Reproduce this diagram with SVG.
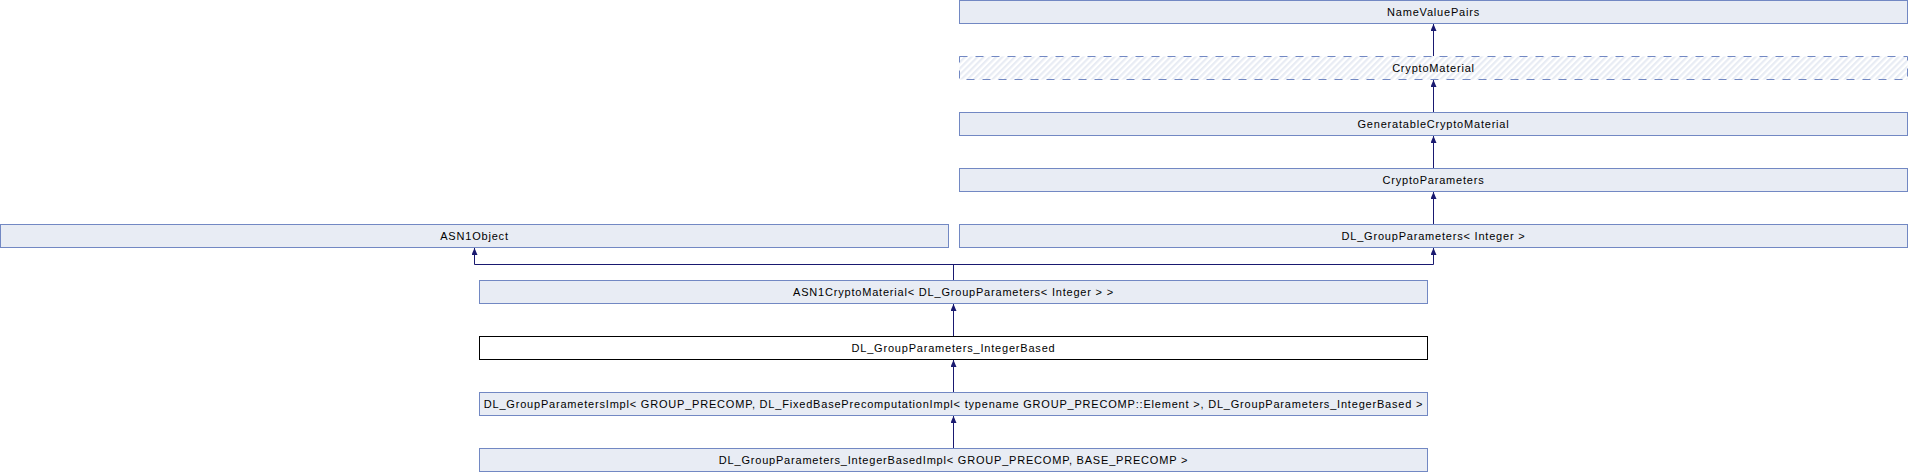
<svg xmlns="http://www.w3.org/2000/svg" width="1908" height="472" viewBox="0 0 1908 472">
<defs>
<style>
.n rect{fill:#e8ecf4;stroke:#7288c3;stroke-width:1}
.n.w rect{fill:#ffffff;stroke:#000000}
.n.a rect{fill:url(#hatch);stroke-dasharray:8,8}
.n text{font-family:"Liberation Sans",Arial,sans-serif;font-size:11px;letter-spacing:0.8px;fill:#000;text-anchor:middle}
#edges path{fill:none;stroke:#191970;stroke-width:1}
#edges path.h{marker-end:url(#arr)}
</style>
<pattern id="hatch" patternUnits="userSpaceOnUse" width="4.4" height="4.4" patternTransform="rotate(45)">
<rect x="0" y="0" width="4.4" height="4.4" fill="#ffffff"/>
<rect x="0" y="0" width="2.2" height="4.4" fill="#e8ecf4"/>
</pattern>
<marker id="arr" markerUnits="userSpaceOnUse" viewBox="0 0 7 6" refX="7" refY="3" markerWidth="7" markerHeight="6" orient="auto">
<path d="M0,0 L7,3 L0,6 z" fill="#191970"/>
</marker>
</defs>
<rect width="1908" height="472" fill="#ffffff"/>
<g id="edges">
<path class="h" d="M1433.5,56 V24"/>
<path class="h" d="M1433.5,112 V80"/>
<path class="h" d="M1433.5,168 V136"/>
<path class="h" d="M1433.5,224 V192"/>
<path d="M953.5,280 V264.5 M474.5,264.5 H1433.5"/>
<path class="h" d="M474.5,264.5 V248"/>
<path class="h" d="M1433.5,264.5 V248"/>
<path class="h" d="M953.5,336 V304"/>
<path class="h" d="M953.5,392 V360"/>
<path class="h" d="M953.5,448 V416"/>
</g>
<g id="NameValuePairs" class="n"><rect x="959.5" y="0.5" width="948" height="23"/><text x="1433.5" y="15.5">NameValuePairs</text></g>
<g id="CryptoMaterial" class="n a"><rect x="959.5" y="56.5" width="948" height="23"/><text x="1433.5" y="71.5">CryptoMaterial</text></g>
<g id="GeneratableCryptoMaterial" class="n"><rect x="959.5" y="112.5" width="948" height="23"/><text x="1433.5" y="127.5">GeneratableCryptoMaterial</text></g>
<g id="CryptoParameters" class="n"><rect x="959.5" y="168.5" width="948" height="23"/><text x="1433.5" y="183.5">CryptoParameters</text></g>
<g id="DL_GroupParameters" class="n"><rect x="959.5" y="224.5" width="948" height="23"/><text x="1433.5" y="239.5">DL_GroupParameters&lt; Integer &gt;</text></g>
<g id="ASN1Object" class="n"><rect x="0.5" y="224.5" width="948" height="23"/><text x="474.5" y="239.5">ASN1Object</text></g>
<g id="ASN1CryptoMaterial" class="n"><rect x="479.5" y="280.5" width="948" height="23"/><text x="953.5" y="295.5">ASN1CryptoMaterial&lt; DL_GroupParameters&lt; Integer &gt; &gt;</text></g>
<g id="DL_GroupParameters_IntegerBased" class="n w"><rect x="479.5" y="336.5" width="948" height="23"/><text x="953.5" y="351.5">DL_GroupParameters_IntegerBased</text></g>
<g id="DL_GroupParametersImpl" class="n"><rect x="479.5" y="392.5" width="948" height="23"/><text x="953.5" y="407.5">DL_GroupParametersImpl&lt; GROUP_PRECOMP, DL_FixedBasePrecomputationImpl&lt; typename GROUP_PRECOMP::Element &gt;, DL_GroupParameters_IntegerBased &gt;</text></g>
<g id="DL_GroupParameters_IntegerBasedImpl" class="n"><rect x="479.5" y="448.5" width="948" height="23"/><text x="953.5" y="463.5">DL_GroupParameters_IntegerBasedImpl&lt; GROUP_PRECOMP, BASE_PRECOMP &gt;</text></g>
</svg>
